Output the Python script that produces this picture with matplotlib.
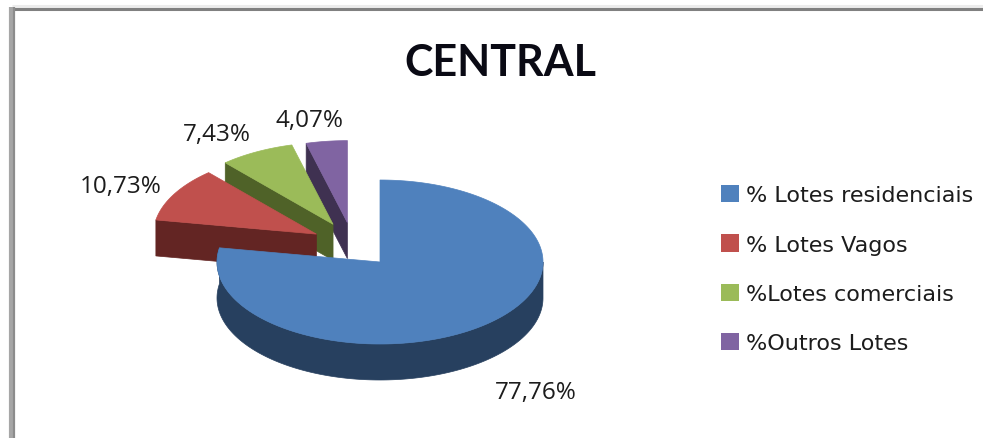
import numpy as np
import matplotlib
matplotlib.use("Agg")
import matplotlib.pyplot as plt
from matplotlib.patches import Polygon, Patch

plt.rcParams['font.family'] = ['Open Sans', 'DejaVu Sans']

# chart data
categories = ["% Lotes residenciais", "% Lotes Vagos", "%Lotes comerciais", "%Outros Lotes"]
values = [77.76, 10.73, 7.43, 4.07]
title = "CENTRAL"

# styles
top_colors = ["#4F81BD", "#C0504D", "#9BBB59", "#8064A2"]
side_colors = ["#27405F", "#632523", "#4F6228", "#3F3151"]
label_pos = [(536, 393), (121, 187), (217, 135), (309, 121)]
# how far each slice is pulled off the pie centre, in radius units
offsets = [(0, 0), (-0.39, 0.34), (-0.288, 0.46), (-0.20, 0.48)]
cx, cy = 380, 263
rx, ry = 163, 82
depth = 36


def to_px(ang, off, r=1.0):
    # ang is clockwise from 12 o'clock, in degrees
    a = np.radians(ang)
    return (cx + (off[0] + r * np.sin(a)) * rx, cy - (off[1] + r * np.cos(a)) * ry)


def arc(a0, a1, off):
    t = np.linspace(a0, a1, 200)
    x, y = to_px(t, off)
    return np.column_stack([x, y])


fig = plt.figure(figsize=(9.83, 4.39), dpi=100)
ax = fig.add_axes([0, 0, 1, 1])
ax.set_xlim(0, 983)
ax.set_ylim(439, 0)
ax.axis("off")

# frame of the chart area, only top and left are visible
ax.plot([12, 983], [6.5, 6.5], color="#ececec", lw=2.2, solid_capstyle="butt")
ax.plot([12, 983], [9.5, 9.5], color="#808080", lw=2.2, solid_capstyle="butt")
ax.plot([11, 11], [8, 439], color="#a6a6a6", lw=3, solid_capstyle="butt")
ax.plot([14, 14], [8, 439], color="#8c8c8c", lw=1.6, solid_capstyle="butt")

edges = 360 * np.cumsum([0] + values) / sum(values)

# back slices first so the nearer ones cover them
for i in [3, 2, 1, 0]:
    a0, a1 = edges[i], edges[i + 1]
    off = offsets[i]
    tip = to_px(0, off, 0)
    if i == 0:
        # outer wall of the big slice, round the front
        rim = arc(90, a1, off)
        wall = np.vstack([rim, (rim + [0, depth])[::-1]])
    else:
        # cut face on the left of the slice
        p = to_px(a0, off)
        wall = np.array([p, tip, (tip[0], tip[1] + depth), (p[0], p[1] + depth)])
    ax.add_patch(Polygon(wall, closed=True, fc=side_colors[i], ec=side_colors[i], lw=0.5, zorder=2 + 3 - i))
    face = np.vstack([[tip], arc(a0, a1, off)])
    ax.add_patch(Polygon(face, closed=True, fc=top_colors[i], ec=top_colors[i], lw=0.5, zorder=2.5 + 3 - i))

for v, pos in zip(values, label_pos):
    ax.text(pos[0], pos[1], "{:.2f}%".format(v).replace(".", ","), ha="center", va="center",
            fontsize=17.5, color="#1c1c1c", zorder=10)

ax.text(500, 63, title, ha="center", va="center", fontsize=31, fontweight="bold",
        family=['Lato', 'DejaVu Sans'], color="#0a0a14")

handles = [Patch(fc=c, ec="none") for c in top_colors]
ax.legend(handles, categories, loc="upper left", bbox_to_anchor=(721 / 983, 1 - 186 / 439),
          frameon=False, prop={'family': 'DejaVu Sans', 'size': 16}, handlelength=0.81, handleheight=0.81,
          handletextpad=0.3, labelspacing=1.31, borderpad=0, borderaxespad=0, labelcolor="#1c1c1c")

fig.savefig("out.png", dpi=100)
